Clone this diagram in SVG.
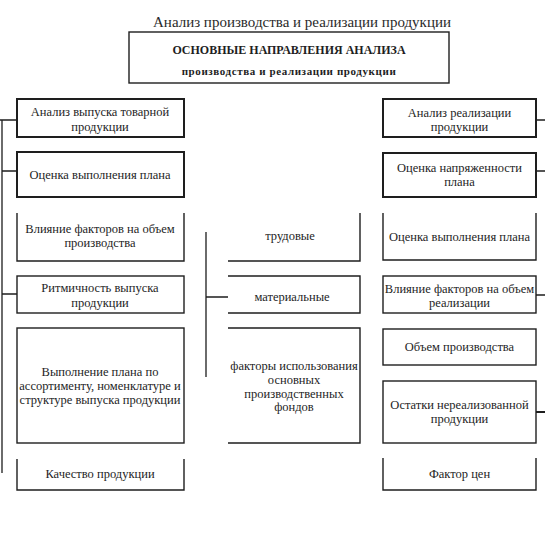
<svg xmlns="http://www.w3.org/2000/svg" width="545" height="535" viewBox="0 0 545 535">
<style>
  .bg{fill:#ffffff}
  .box{fill:none;stroke:#1e1e1e;stroke-width:1.4}
  .bold{stroke-width:2}
  .edge{fill:none;stroke:#1e1e1e;stroke-width:1.4}
  .conn{fill:none;stroke:#1e1e1e;stroke-width:1.3}
  text{font-family:"Liberation Serif","Times New Roman",serif;fill:#1e1e1e;text-anchor:middle;font-size:12.5px}
  .title{font-size:15px;fill:#2a2a2a}
  .hdr{font-weight:bold;font-size:12px}
  .hdr2{font-weight:bold;font-size:11px;letter-spacing:0.6px}
</style>
<rect class="bg" x="0" y="0" width="545" height="535"/>
<text class="title" x="302" y="27">Анализ производства и реализации продукции</text>

<g id="header">
  <rect class="box" x="129" y="32" width="320" height="51"/>
  <text class="hdr" x="289" y="54">ОСНОВНЫЕ НАПРАВЛЕНИЯ АНАЛИЗА</text>
  <text class="hdr2" x="289" y="75">производства и реализации продукции</text>
</g>

<g id="connectors">
  <path class="conn" d="M2,120 V473 M0,120 H17 M2,171 H17 M2,294 H17"/>
  <path class="conn" d="M206,232 V377 M206,297 H228"/>
  <path class="conn" d="M536,120 H545 M536,171 H545 M536,295 H545"/>
  <path class="conn" d="M536,412 H545" style="stroke-width:2"/>
</g>

<g id="left1">
  <rect class="box bold" x="17" y="99" width="167" height="38"/>
  <text x="100" y="116">Анализ выпуска товарной</text>
  <text x="100" y="131">продукции</text>
</g>
<g id="left2">
  <rect class="box bold" x="17" y="152" width="167" height="45"/>
  <text x="100" y="179">Оценка выполнения плана</text>
</g>
<g id="left3">
  <path class="edge" d="M17,213 V261 H184 V213"/>
  <text x="100" y="233">Влияние факторов на объем</text>
  <text x="100" y="247">производства</text>
</g>
<g id="left4">
  <rect class="box" x="17" y="276" width="167" height="37"/>
  <text x="100" y="292">Ритмичность выпуска</text>
  <text x="100" y="307">продукции</text>
</g>
<g id="left5">
  <rect class="box" x="17" y="328" width="167" height="115"/>
  <text x="100" y="376">Выполнение плана по</text>
  <text x="100" y="390">ассортименту, номенклатуре и</text>
  <text x="100" y="404">структуре выпуска продукции</text>
</g>
<g id="left6">
  <path class="edge" d="M17,459 V490 H184 V459"/>
  <text x="100" y="478">Качество продукции</text>
</g>

<g id="mid1">
  <path class="edge" d="M360,213 V261 H228"/>
  <text x="290" y="240">трудовые</text>
</g>
<g id="mid2">
  <path class="edge" d="M228,276 H360 V313 H228"/>
  <text x="292" y="301">материальные</text>
</g>
<g id="mid3">
  <path class="edge" d="M228,328 H360 V443 H228"/>
  <text x="294" y="370">факторы использования</text>
  <text x="294" y="384">основных</text>
  <text x="294" y="398">производственных</text>
  <text x="294" y="411">фондов</text>
</g>

<g id="right1">
  <rect class="box bold" x="383" y="99" width="153" height="38"/>
  <text x="459.5" y="117">Анализ реализации</text>
  <text x="459.5" y="131">продукции</text>
</g>
<g id="right2">
  <rect class="box bold" x="383" y="153" width="153" height="44"/>
  <text x="459.5" y="172">Оценка напряженности</text>
  <text x="459.5" y="186">плана</text>
</g>
<g id="right3">
  <path class="edge" d="M383,213 V260 H536 V213"/>
  <text x="459.5" y="241">Оценка выполнения плана</text>
</g>
<g id="right4">
  <rect class="box" x="383" y="276" width="153" height="37"/>
  <text x="459.5" y="293">Влияние факторов на объем</text>
  <text x="459.5" y="307">реализации</text>
</g>
<g id="right5">
  <rect class="box" x="383" y="329" width="153" height="36"/>
  <text x="459.5" y="351">Объем производства</text>
</g>
<g id="right6">
  <rect class="box" x="383" y="381" width="153" height="62"/>
  <text x="459.5" y="409">Остатки нереализованной</text>
  <text x="459.5" y="423">продукции</text>
</g>
<g id="right7">
  <path class="edge" d="M383,458 V490 H536 V458"/>
  <text x="459.5" y="478">Фактор цен</text>
</g>
</svg>
